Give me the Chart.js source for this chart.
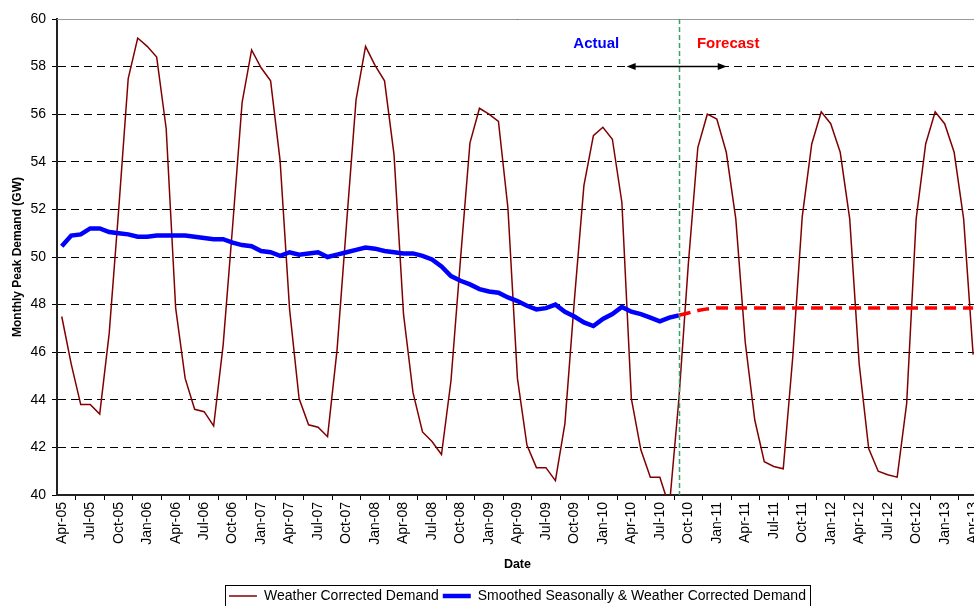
<!DOCTYPE html>
<html>
<head>
<meta charset="utf-8">
<script src="https://cdn.jsdelivr.net/npm/chart.js@4/dist/chart.umd.min.js"></script>
<style>
  html, body { margin: 0; padding: 0; background: #fff; }
  #wrap { width: 974px; height: 606px; overflow: hidden; position: relative; }
</style>
</head>
<body>
<div id="wrap">
  <canvas id="chart" width="992" height="616"></canvas>
</div>
<script>
// monthly categories Apr-05 .. Apr-13
const MONTHS = [
  'Apr-05','May-05','Jun-05','Jul-05','Aug-05','Sep-05','Oct-05','Nov-05','Dec-05',
  'Jan-06','Feb-06','Mar-06','Apr-06','May-06','Jun-06','Jul-06','Aug-06','Sep-06','Oct-06','Nov-06','Dec-06',
  'Jan-07','Feb-07','Mar-07','Apr-07','May-07','Jun-07','Jul-07','Aug-07','Sep-07','Oct-07','Nov-07','Dec-07',
  'Jan-08','Feb-08','Mar-08','Apr-08','May-08','Jun-08','Jul-08','Aug-08','Sep-08','Oct-08','Nov-08','Dec-08',
  'Jan-09','Feb-09','Mar-09','Apr-09','May-09','Jun-09','Jul-09','Aug-09','Sep-09','Oct-09','Nov-09','Dec-09',
  'Jan-10','Feb-10','Mar-10','Apr-10','May-10','Jun-10','Jul-10','Aug-10','Sep-10','Oct-10','Nov-10','Dec-10',
  'Jan-11','Feb-11','Mar-11','Apr-11','May-11','Jun-11','Jul-11','Aug-11','Sep-11','Oct-11','Nov-11','Dec-11',
  'Jan-12','Feb-12','Mar-12','Apr-12','May-12','Jun-12','Jul-12','Aug-12','Sep-12','Oct-12','Nov-12','Dec-12',
  'Jan-13','Feb-13','Mar-13','Apr-13'
]

// weather corrected demand (GW)
const DEMAND = [
  47.5, 45.5, 43.8, 43.8, 43.4, 46.8, 52.0, 57.5, 59.2,
  58.85, 58.4, 55.4, 47.85, 44.9, 43.6, 43.5, 42.9, 46.3, 51.3, 56.5, 58.7,
  57.95, 57.4, 54.05, 47.8, 44.05, 42.95, 42.85, 42.45, 46.1, 51.4, 56.6, 58.85,
  58.05, 57.4, 54.3, 47.6, 44.3, 42.65, 42.25, 41.7, 44.8, 49.9, 54.8, 56.25,
  56.0, 55.7, 52.05, 44.9, 42.1, 41.15, 41.15, 40.6, 43.0, 48.2, 53.0, 55.1,
  55.45, 54.95, 52.3, 44.05, 41.9, 40.75, 40.75, 39.5, 44.0, 49.7, 54.6, 56.0,
  55.8, 54.4, 51.6, 46.4, 43.15, 41.4, 41.2, 41.1, 45.8, 51.7, 54.75, 56.1,
  55.6, 54.4, 51.6, 45.5, 41.95, 41.0, 40.85, 40.75, 43.85, 51.6, 54.75, 56.1,
  55.6, 54.4, 51.6, 45.9
]

// smoothed seasonally & weather corrected demand, actual part (to Sep-10)
const SMOOTHED = [
  50.45, 50.9, 50.95, 51.2, 51.2, 51.05, 51.0, 50.95, 50.85,
  50.85, 50.9, 50.9, 50.9, 50.9, 50.85, 50.8, 50.75, 50.75, 50.6, 50.5, 50.45,
  50.25, 50.2, 50.05, 50.2, 50.1, 50.15, 50.2, 50.0, 50.1, 50.2, 50.3, 50.4,
  50.35, 50.25, 50.2, 50.15, 50.15, 50.05, 49.9, 49.6, 49.2, 49.0, 48.85, 48.65,
  48.55, 48.5, 48.3, 48.15, 47.95, 47.8, 47.85, 48.0, 47.7, 47.5, 47.25, 47.1,
  47.4, 47.6, 47.9, 47.7, 47.6, 47.45, 47.3, 47.45, 47.55
]

// forecast of the smoothed demand (Sep-10 onwards)
const FORECAST = [
  47.55, 47.65, 47.75, 47.82, 47.86, 47.86, 47.86, 47.86, 47.86, 47.86, 47.86,
  47.86, 47.86, 47.86, 47.86, 47.86, 47.86, 47.86, 47.86, 47.86, 47.86, 47.86,
  47.86, 47.86, 47.86, 47.86, 47.86, 47.86, 47.86, 47.86, 47.86, 47.86
]

const FORECAST_START = 65   // Sep-10
const Y_TICKS = [40, 60, 2] // min, max, step

const FONT = "'Liberation Sans', Arial, sans-serif"

const smoothedData = MONTHS.map((m, i) => i < SMOOTHED.length ? SMOOTHED[i] : null)
const forecastData = MONTHS.map((m, i) => i >= FORECAST_START ? FORECAST[i - FORECAST_START] : null)

// vertical divider, arrow and Actual / Forecast labels
const annotations = {
  id: 'annotations',
  afterDatasetsDraw(chart) {
    const { ctx, chartArea, scales: { x, y } } = chart
    ctx.save()
    // top border of plot
    ctx.strokeStyle = '#999'
    ctx.lineWidth = 1
    ctx.beginPath()
    ctx.moveTo(chartArea.left, chartArea.top + 0.5)
    ctx.lineTo(chartArea.right, chartArea.top + 0.5)
    ctx.stroke()

    // green divider
    const xd = Math.round(x.getPixelForValue(FORECAST_START)) + 0.5
    ctx.strokeStyle = '#3f9f72'
    ctx.lineWidth = 1.5
    ctx.setLineDash([5, 3])
    ctx.beginPath()
    ctx.moveTo(xd, chartArea.top)
    ctx.lineTo(xd, chartArea.bottom)
    ctx.stroke()
    ctx.setLineDash([])

    // double arrow
    const ya = y.getPixelForValue(58)
    const x1 = x.getPixelForValue(59.5)
    const x2 = x.getPixelForValue(70.05)
    ctx.strokeStyle = '#000'
    ctx.fillStyle = '#000'
    ctx.lineWidth = 1.5
    ctx.beginPath()
    ctx.moveTo(x1 + 4, ya)
    ctx.lineTo(x2 - 4, ya)
    ctx.stroke()
    ctx.beginPath()
    ctx.moveTo(x1, ya); ctx.lineTo(x1 + 9, ya - 3.5); ctx.lineTo(x1 + 9, ya + 3.5); ctx.closePath()
    ctx.fill()
    ctx.beginPath()
    ctx.moveTo(x2, ya); ctx.lineTo(x2 - 9, ya - 3.5); ctx.lineTo(x2 - 9, ya + 3.5); ctx.closePath()
    ctx.fill()

    // labels
    ctx.font = 'bold 15px ' + FONT
    ctx.textAlign = 'center'
    ctx.textBaseline = 'middle'
    ctx.fillStyle = '#0000ff'
    ctx.fillText('Actual', x.getPixelForValue(56.3), y.getPixelForValue(58.95))
    ctx.fillStyle = '#ff0000'
    ctx.fillText('Forecast', x.getPixelForValue(70.2), y.getPixelForValue(58.95))
    ctx.restore()
  },
  afterDraw(chart) {
    // frame around legend
    const boxes = chart.legend && chart.legend.legendHitBoxes
    if (!boxes || !boxes.length) return
    const ctx = chart.ctx
    const l = Math.min(...boxes.map(b => b.left)) - 4
    const r = Math.max(...boxes.map(b => b.left + b.width)) + 4
    const t = boxes[0].top - 4
    const b = boxes[0].top + boxes[0].height + 4
    ctx.save()
    ctx.strokeStyle = '#000'
    ctx.lineWidth = 1
    ctx.strokeRect(Math.round(l) + 0.5, Math.round(t) + 0.5, Math.round(r - l), Math.round(b - t))
    ctx.restore()
  }
}

const chart = new Chart(document.getElementById('chart'), {
  type: 'line',
  data: {
    labels: MONTHS,
    datasets: [
      {
        label: 'Weather Corrected Demand',
        data: DEMAND,
        borderColor: '#800000',
        backgroundColor: '#800000',
        borderWidth: 1.5,
        order: 2
      },
      {
        label: 'Smoothed Seasonally & Weather Corrected Demand',
        data: smoothedData,
        borderColor: '#0000ff',
        backgroundColor: '#0000ff',
        borderWidth: 4.5,
        order: 1
      },
      {
        label: 'Forecast',
        data: forecastData,
        borderColor: '#ff0000',
        backgroundColor: '#ff0000',
        borderWidth: 3.5,
        borderDash: [12, 7],
        order: 1
      }
    ]
  },
  options: {
    responsive: false,
    animation: false,
    devicePixelRatio: 1,
    layout: { padding: { top: 19, right: 13, left: 0, bottom: 3 } },
    elements: {
      point: { radius: 0, hoverRadius: 0 },
      line: { tension: 0, fill: false }
    },
    scales: {
      x: {
        type: 'category',
        offset: true,
        grid: {
          offset: true,
          drawOnChartArea: false,
          drawTicks: true,
          tickLength: 5,
          tickColor: '#000',
          tickWidth: 1
        },
        border: { display: true, color: '#222', width: 2 },
        ticks: {
          autoSkip: false,
          maxRotation: 90,
          minRotation: 90,
          padding: 2,
          color: '#000',
          font: { family: FONT, size: 14 },
          callback: function (val, i) {
            return i % 3 === 0 ? this.getLabelForValue(val) : null
          }
        },
        title: {
          display: true,
          text: 'Date',
          color: '#000',
          font: { family: FONT, size: 12.5, weight: 'bold' },
          padding: { top: 0, bottom: 13 }
        },
        afterFit(scale) { scale.height = 90 }
      },
      y: {
        min: Y_TICKS[0],
        max: Y_TICKS[1],
        ticks: {
          stepSize: Y_TICKS[2],
          padding: 6,
          color: '#000',
          font: { family: FONT, size: 14 }
        },
        grid: {
          color: '#000',
          lineWidth: 1,
          drawTicks: true,
          tickLength: 5,
          tickColor: '#000'
        },
        border: { display: true, color: '#222', width: 2, dash: [8, 5] },
        title: {
          display: true,
          text: 'Monthly Peak Demand (GW)',
          color: '#000',
          font: { family: FONT, size: 12, weight: 'bold' },
          padding: { top: 10, bottom: 0 }
        },
        afterFit(scale) { scale.width = 57 }
      }
    },
    plugins: {
      tooltip: { enabled: false },
      legend: {
        display: true,
        position: 'bottom',
        fullSize: false,
        labels: {
          color: '#000',
          font: { family: FONT, size: 14 },
          usePointStyle: true,
          pointStyle: 'line',
          pointStyleWidth: 28,
          padding: 4,
          filter: item => item.datasetIndex < 2,
          sort: (a, b) => a.datasetIndex - b.datasetIndex
        }
      }
    }
  },
  plugins: [annotations]
})
</script>
</body>
</html>
